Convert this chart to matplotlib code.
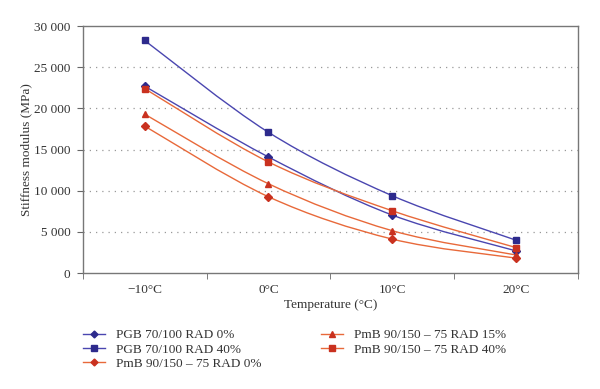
import matplotlib
matplotlib.use("Agg")
import matplotlib.pyplot as plt
from matplotlib.path import Path
from matplotlib.patches import PathPatch
from matplotlib.lines import Line2D
from matplotlib.ticker import FuncFormatter

plt.rcParams['font.family'] = ['Liberation Serif', 'DejaVu Serif']

# Data
temperatures = ["\u221210\u00b0C", "0\u00b0C", "10\u00b0C", "20\u00b0C"]
pgb_rad0 = [22700, 14100, 7050, 2700]
pgb_rad40 = [28250, 17100, 9400, 4000]
pmb_rad0 = [17850, 9270, 4130, 1820]
pmb_rad15 = [19300, 10850, 5150, 2200]
pmb_rad40 = [22400, 13500, 7570, 3100]

series_names = ["PGB 70/100 RAD 0%", "PGB 70/100 RAD 40%",
                "PmB 90/150 \u2013 75 RAD 0%", "PmB 90/150 \u2013 75 RAD 15%",
                "PmB 90/150 \u2013 75 RAD 40%"]
series_values = [pgb_rad0, pgb_rad40, pmb_rad0, pmb_rad15, pmb_rad40]
series_markers = ["D", "s", "D", "^", "s"]

BLUE_LINE, BLUE_MARK = "#4a46b0", "#2d2a8c"
RED_LINE, RED_MARK = "#e8693a", "#c9311f"
line_colors = [BLUE_LINE, BLUE_LINE, RED_LINE, RED_LINE, RED_LINE]
mark_colors = [BLUE_MARK, BLUE_MARK, RED_MARK, RED_MARK, RED_MARK]
marker_sizes = [4.3, 4.6, 4.3, 4.8, 4.6]


def smooth_path(xs, ys):
    # Catmull-Rom style bezier, like the spreadsheet "smoothed line"
    pts = list(zip(xs, ys))
    verts = [pts[0]]
    codes = [Path.MOVETO]
    n = len(pts)
    for i in range(n - 1):
        p0 = pts[max(i - 1, 0)]
        p1 = pts[i]
        p2 = pts[i + 1]
        p3 = pts[min(i + 2, n - 1)]
        c1 = (p1[0] + (p2[0] - p0[0]) / 6, p1[1] + (p2[1] - p0[1]) / 6)
        c2 = (p2[0] - (p3[0] - p1[0]) / 6, p2[1] - (p3[1] - p1[1]) / 6)
        verts += [c1, c2, p2]
        codes += [Path.CURVE4] * 3
    return Path(verts, codes)


fig = plt.figure(figsize=(6, 3.89), dpi=100)
ax = fig.add_axes([0.138, 0.298, 0.825, 0.635])

x = list(range(len(temperatures)))
handles = []
for name, vals, mk, lc, mc, ms in zip(series_names, series_values, series_markers,
                                      line_colors, mark_colors, marker_sizes):
    ax.add_patch(PathPatch(smooth_path(x, vals), facecolor="none",
                           edgecolor=lc, lw=1.0, zorder=2))
    ax.plot(x, vals, linestyle="none", marker=mk, ms=ms, color=mc, zorder=3)
    handles.append(Line2D([], [], color=lc, lw=1.0, marker=mk, ms=ms - 0.8,
                          markerfacecolor=mc, markeredgecolor=mc, label=name))

ax.set_xlim(-0.5, 3.5)
ax.set_ylim(0, 30000)
ax.set_yticks(range(0, 30001, 5000))
ax.yaxis.set_major_formatter(FuncFormatter(lambda v, p: f"{int(v):,}".replace(",", " ")))
ax.set_xticks(x)
ax.set_xticklabels(temperatures)
ax.set_xticks([-0.5, 0.5, 1.5, 2.5, 3.5], minor=True)
ax.tick_params(axis="x", which="major", length=0, pad=8, labelsize=9.5, colors="#333333")
ax.tick_params(axis="x", which="minor", length=4, direction="out", color="#666666")
ax.tick_params(axis="y", length=4, direction="out", pad=5, labelsize=9.5, color="#666666",
               labelcolor="#333333")

for v in range(5000, 30000, 5000):
    ax.axhline(v, color="#999999", lw=0.9, ls=(0, (1, 4)), zorder=1)

for s in ax.spines.values():
    s.set_color("#777777")
    s.set_linewidth(1.0)

ax.set_xlabel("Temperature (\u00b0C)", fontsize=9.5, color="#333333", labelpad=2)
ax.set_ylabel("Stiffness modulus (MPa)", fontsize=9.5, color="#333333", labelpad=1)

fig.legend(handles=handles, ncol=2, loc="upper left", bbox_to_anchor=(0.138, 0.154),
           frameon=False, fontsize=9.5, handlelength=1.7, handletextpad=0.8,
           columnspacing=4.5, labelspacing=0.15, borderaxespad=0, borderpad=0)
for t in fig.legends[0].get_texts():
    t.set_color("#333333")

fig.savefig("out.png", dpi=100)
